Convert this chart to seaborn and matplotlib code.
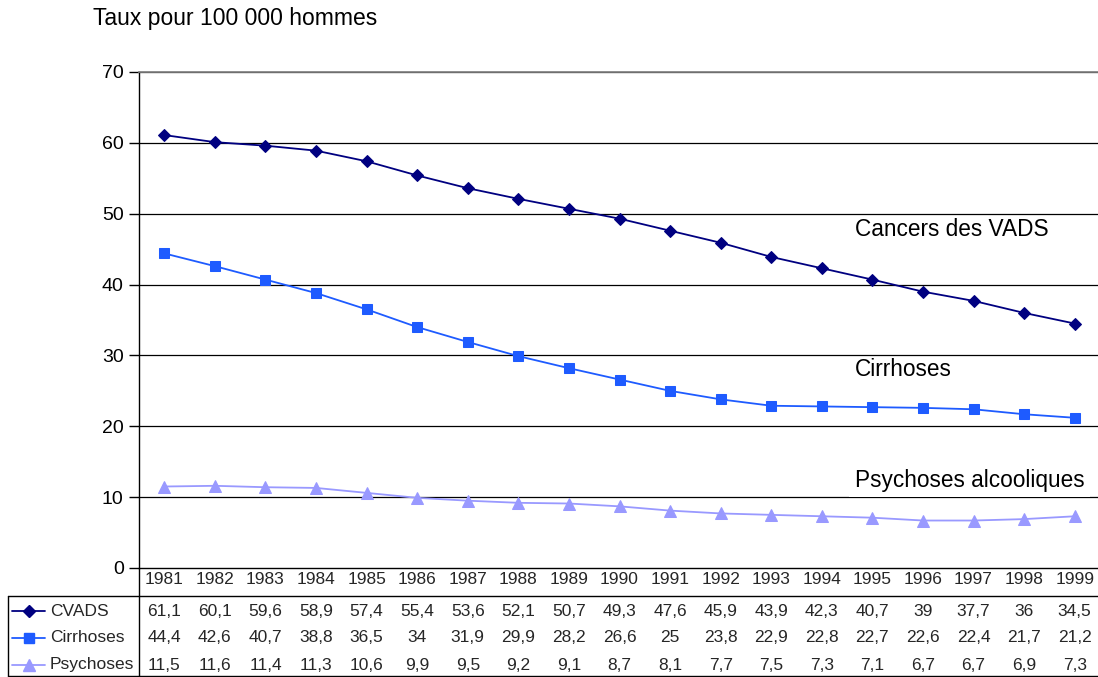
import matplotlib
matplotlib.use("Agg")
import matplotlib.pyplot as plt
from matplotlib.transforms import blended_transform_factory
from matplotlib.lines import Line2D
import seaborn as sns
import pandas as pd

years = [1981, 1982, 1983, 1984, 1985, 1986, 1987, 1988, 1989, 1990,
         1991, 1992, 1993, 1994, 1995, 1996, 1997, 1998, 1999]
cvads = [61.1, 60.1, 59.6, 58.9, 57.4, 55.4, 53.6, 52.1, 50.7, 49.3,
         47.6, 45.9, 43.9, 42.3, 40.7, 39, 37.7, 36, 34.5]
cirrhoses = [44.4, 42.6, 40.7, 38.8, 36.5, 34, 31.9, 29.9, 28.2, 26.6,
             25, 23.8, 22.9, 22.8, 22.7, 22.6, 22.4, 21.7, 21.2]
psychoses = [11.5, 11.6, 11.4, 11.3, 10.6, 9.9, 9.5, 9.2, 9.1, 8.7,
             8.1, 7.7, 7.5, 7.3, 7.1, 6.7, 6.7, 6.9, 7.3]
series_names = ["CVADS", "Cirrhoses", "Psychoses"]
series_values = [cvads, cirrhoses, psychoses]
curve_labels = ["Cancers des VADS", "Cirrhoses", "Psychoses alcooliques"]
y_title = "Taux pour 100 000 hommes"

colors = {"CVADS": "#000080", "Cirrhoses": "#1E5BFF", "Psychoses": "#9999FF"}
markers = {"CVADS": "D", "Cirrhoses": "s", "Psychoses": "^"}
msizes = {"CVADS": 5.8, "Cirrhoses": 7.5, "Psychoses": 8}

sns.set_theme(style="white")
plt.rcParams["font.family"] = ["Liberation Sans", "DejaVu Sans"]

W, H = 1098, 677
fig = plt.figure(figsize=(W / 100, H / 100), dpi=100)
fig.patch.set_facecolor("white")


def fx(px):
    return px / W


def fy(py):
    return 1 - py / H


ax_left, ax_right, ax_top, ax_bottom = 139, 1100, 72, 568
ax = fig.add_axes([fx(ax_left), fy(ax_bottom), (ax_right - ax_left) / W,
                   (ax_bottom - ax_top) / H])

rows = []
for name, vals in zip(series_names, series_values):
    for i, (yr, v) in enumerate(zip(years, vals)):
        rows.append({"idx": i, "year": yr, "value": v, "series": name})
df = pd.DataFrame(rows)

for name in series_names:
    sub = df[df["series"] == name]
    sns.lineplot(data=sub, x="idx", y="value", ax=ax, color=colors[name],
                 marker=markers[name], markersize=msizes[name],
                 markeredgecolor=colors[name], markerfacecolor=colors[name],
                 linewidth=1.3, legend=False, zorder=3)

ax.set_xlim(-0.5, len(years) - 0.5)
ax.set_ylim(0, 70)
ax.set_yticks(range(0, 71, 10))
ax.set_yticklabels([str(v) for v in range(0, 71, 10)], fontsize=14)
ax.set_xticks([])
ax.set_xlabel("")
ax.set_ylabel("")
ax.tick_params(axis="y", length=7, width=1, color="black", pad=4,
               left=True, labelcolor="black")
for yv in range(10, 71, 10):
    ax.axhline(yv, color="black", linewidth=0.9, zorder=1)
ax.spines["left"].set_color("black")
ax.spines["left"].set_linewidth(1)
ax.spines["bottom"].set_color("black")
ax.spines["bottom"].set_linewidth(1)
ax.spines["top"].set_color("#808080")
ax.spines["right"].set_visible(False)
ax.patch.set_alpha(0)

# Curve labels inside the plot
label_kw = dict(fontsize=16.3, va="center", ha="left", color="black")
fig.text(fx(855), fy(229), curve_labels[0], **label_kw)
fig.text(fx(855), fy(369), curve_labels[1], **label_kw)
fig.text(fx(855), fy(480), curve_labels[2], zorder=5,
         bbox=dict(facecolor="white", edgecolor="none", pad=4), **label_kw)

fig.text(fx(93), fy(18), y_title, fontsize=16.5, va="center", ha="left",
         color="black")

# Data table under the chart
tfs = 12.5
tr = blended_transform_factory(ax.transData, fig.transFigure)
header_y = 580
row_ys = [611, 638, 665]
for i, yr in enumerate(years):
    fig.text(i, fy(header_y), str(yr), transform=tr, ha="center",
             va="center", fontsize=tfs)
for name, vals, ry in zip(series_names, series_values, row_ys):
    for i, v in enumerate(vals):
        s = ("%g" % v).replace(".", ",")
        fig.text(i, fy(ry), s, transform=tr, ha="center", va="center",
                 fontsize=tfs)
    # legend key
    fig.add_artist(Line2D([fx(12), fx(45)], [fy(ry), fy(ry)],
                          color=colors[name], linewidth=1.3,
                          transform=fig.transFigure))
    fig.add_artist(Line2D([fx(28.5)], [fy(ry)], color=colors[name],
                          marker=markers[name], markersize=msizes[name],
                          markeredgecolor=colors[name],
                          transform=fig.transFigure, linestyle="none"))
    fig.text(fx(50), fy(ry), name, ha="left", va="center", fontsize=tfs)

grid_kw = dict(color="black", linewidth=1, transform=fig.transFigure)
fig.add_artist(Line2D([fx(8), fx(1098)], [fy(596), fy(596)], **grid_kw))
fig.add_artist(Line2D([fx(8), fx(1098)], [fy(676), fy(676)], **grid_kw))
fig.add_artist(Line2D([fx(8), fx(8)], [fy(596), fy(676)], **grid_kw))
fig.add_artist(Line2D([fx(ax_left), fx(ax_left)], [fy(ax_bottom), fy(676)],
                      **grid_kw))

fig.savefig("out.png", dpi=100, facecolor="white")
